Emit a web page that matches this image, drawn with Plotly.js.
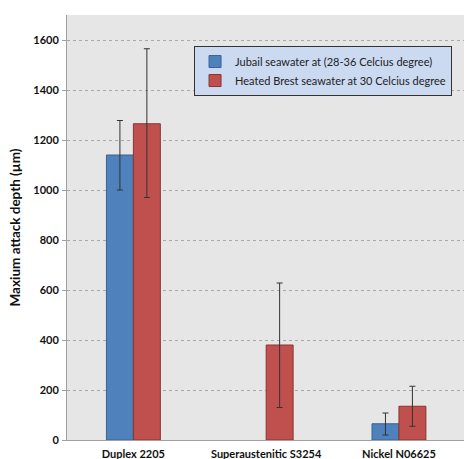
<!DOCTYPE html>
<html><head><meta charset="utf-8">
<script src="https://cdn.plot.ly/plotly-3.0.1.min.js"></script>
<style>html,body{margin:0;padding:0;background:#fff}#chart{width:464px;height:459px}</style>
</head><body><div id="chart"></div>
<script>
const categories = ["Duplex 2205", "Superaustenitic S3254", "Nickel N06625"];
const seriesNames = ["Jubail seawater at (28-36 Celcius degree)", "Heated Brest seawater at 30 Celcius degree"];
const jubail = [1140, null, 65];
const jubailErrPlus = [138, null, 43];
const jubailErrMinus = [140, null, 45];
const brest = [1265, 380, 135];
const brestErrPlus = [300, 248, 80];
const brestErrMinus = [295, 250, 80];
const yTicks = [0, 200, 400, 600, 800, 1000, 1200, 1400, 1600];

const font = "Lato, 'Open Sans', sans-serif";
const traces = [
  {type:'bar', name: seriesNames[0], x: categories, y: jubail,
   marker:{color:'#4f81bd', line:{color:'#3b6396', width:1}},
   error_y:{type:'data', symmetric:false, array: jubailErrPlus, arrayminus: jubailErrMinus, color:'#333', thickness:1, width:3}},
  {type:'bar', name: seriesNames[1], x: categories, y: brest,
   marker:{color:'#c0504d', line:{color:'#8a3432', width:1}},
   error_y:{type:'data', symmetric:false, array: brestErrPlus, arrayminus: brestErrMinus, color:'#333', thickness:1, width:3}}
];
const layout = {
  width:464, height:459,
  margin:{l:67, r:0, t:15, b:19},
  paper_bgcolor:'#ffffff', plot_bgcolor:'#e6e6e6',
  barmode:'group', bargap:0.594, bargroupgap:0,
  showlegend:true,
  legend:{x:0.32, y:0.927, xanchor:'left', yanchor:'top', bgcolor:'#cbd9f1', bordercolor:'#333', borderwidth:1,
    font:{family:font, size:11, color:'#222'}, traceorder:'normal', itemwidth:30, tracegroupgap:0},
  xaxis:{range:[-0.5, 2.49], showline:true, linecolor:'#a0a0a0', linewidth:1, ticks:'', showgrid:false,
    ticklabelstandoff:4,
    tickfont:{family:font, size:11, color:'#111', weight:'bold'}, fixedrange:true},
  yaxis:{range:[0, 1700], tickvals:yTicks, showline:true, linecolor:'#a0a0a0', linewidth:1,
    ticks:'outside', ticklen:4, tickcolor:'#a0a0a0', showgrid:true, gridcolor:'#a8a8a8', griddash:'dot', gridwidth:1,
    zeroline:false, tickfont:{family:font, size:11, color:'#111', weight:'bold'}, ticklabelstandoff:1,
    title:{text:'Maxium attack depth (µm)', font:{family:font, size:13.5, color:'#111', weight:'bold'}, standoff:9}}
};
Plotly.newPlot('chart', traces, layout, {displayModeBar:false, staticPlot:true});
</script></body></html>
